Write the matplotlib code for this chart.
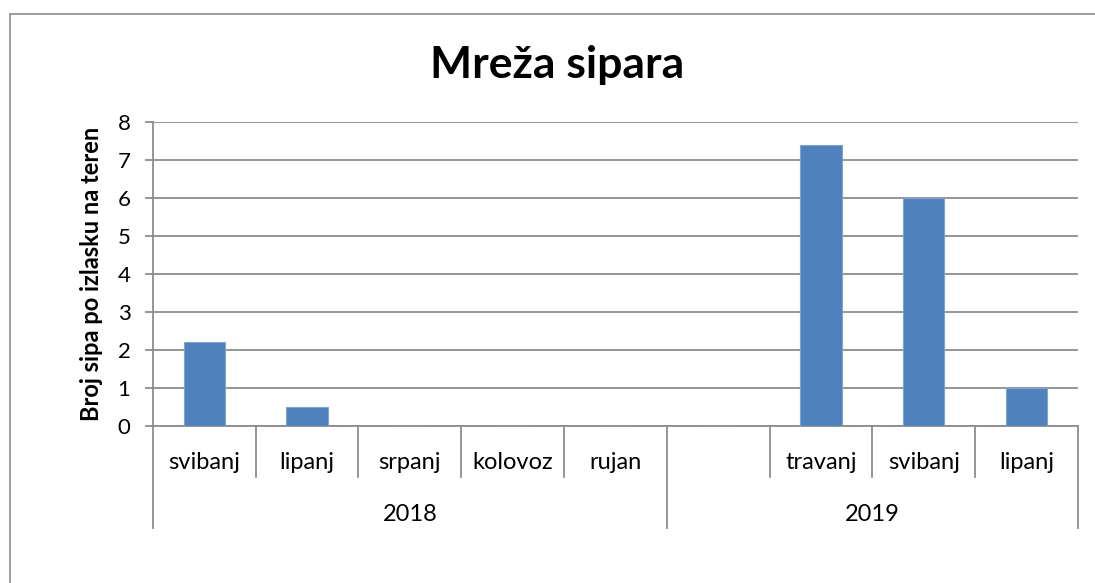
import matplotlib
matplotlib.use("Agg")
import matplotlib.pyplot as plt
from matplotlib.patches import Rectangle

plt.rcParams['font.family'] = ['Lato', 'DejaVu Sans']

# data
months = ["svibanj", "lipanj", "srpanj", "kolovoz", "rujan", "", "travanj", "svibanj", "lipanj"]
values = [2.2, 0.5, 0, 0, 0, 0, 7.4, 6.0, 1.0]
years = ["2018", "2019"]
year_spans = [(0, 4), (5, 8)]  # first and last month index of each year
y_ticks = [0, 1, 2, 3, 4, 5, 6, 7, 8]

BAR = '#4F81BD'
GRID = '#8C8C8C'
W, H = 1095, 583

fig = plt.figure(figsize=(10.95, 5.83), dpi=100)
ax = fig.add_axes([0.1395, 0.2698, 0.845, 0.5204])

# outer chart frame (cropped on right and bottom like the original)
fig.patches.append(Rectangle((9.5 / W, -0.1), 1.2, 1 - 13.5 / H + 0.1,
                             transform=fig.transFigure, fill=False,
                             edgecolor=GRID, lw=1.2))

x = list(range(len(months)))
ax.bar(x, values, width=0.4, color=BAR, edgecolor='#7FA3D3', linewidth=0.8, zorder=3)

ax.set_xlim(-0.5, len(months) - 0.5)
ax.set_ylim(0, 8)
ax.set_yticks(y_ticks)
ax.set_yticklabels([str(t) for t in y_ticks], fontsize=16)
ax.yaxis.grid(True, color=GRID, lw=1.3, zorder=0)
ax.set_axisbelow(True)
ax.tick_params(axis='y', length=6, width=1.3, color=GRID, pad=10)
ax.set_xticks([])

for s in ['top', 'right']:
    ax.spines[s].set_visible(False)
for s in ['left', 'bottom']:
    ax.spines[s].set_color(GRID)
    ax.spines[s].set_linewidth(1.3)

fig.text(92 / W, 0.5 * (0.2698 + 0.7902), "Broj sipa po izlasku na teren", rotation=90,
         ha='center', va='center', fontsize=17, fontweight='bold')
fig.text(557 / W, 1 - 78 / H, "Mreža sipara", ha='center', va='baseline',
         fontsize=32, fontweight='bold')

# multi-level category axis
tr = ax.get_xaxis_transform()
row1 = -51 / 304
row2 = -102 / 304
group_edges = set()
for a, b in year_spans:
    group_edges.add(a - 0.5)
    group_edges.add(b + 0.5)
for i in range(len(months) + 1):
    xb = i - 0.5
    y_end = row2 if xb in group_edges else row1
    ax.plot([xb, xb], [0, y_end], transform=tr, color=GRID, lw=1.3, clip_on=False)
for i, m in enumerate(months):
    ax.text(i, -43 / 304, m, transform=tr, ha='center', va='baseline', fontsize=17)
for (a, b), yr in zip(year_spans, years):
    ax.text((a + b) / 2, -95 / 304, yr, transform=tr, ha='center', va='baseline', fontsize=17)

fig.savefig("out.png", dpi=100)
